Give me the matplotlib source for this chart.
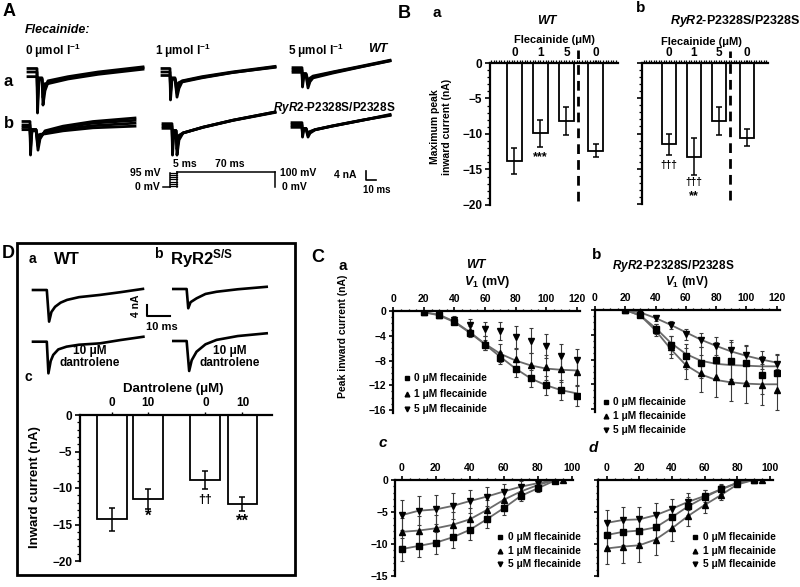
import numpy as np
import matplotlib
matplotlib.use('Agg')
import matplotlib.pyplot as plt
from matplotlib.lines import Line2D
from matplotlib.patches import Rectangle
from matplotlib.ticker import MultipleLocator

# ======================= DATA =======================
# Panel A: families of Na+ current traces (time ms, current nA)
A_t_a0 = [0, 9, 9.5, 11, 14, 15, 17, 20, 40, 70, 115]
A_I_a0 = [[1.5, 1.5, -17.6, -3, -3, -14.2, -8, -4.5, -2.5, -0.5, 1.8],
          [0, 0, -13, -2.5, -2.5, -11, -6.5, -3.8, -2, 0, 2.2],
          [-2, -2, -8, -3, -3, -7, -5, -5, -3, -1, 1.2]]
A_t_a1 = [0, 8, 8.5, 10, 13, 15, 17, 20, 40, 70, 113]
A_I_a1 = [[1.5, 1.5, -12, -3, -3, -10.8, -7, -4.3, -2.5, -0.3, 2.2],
          [0, 0, -9, -2.5, -2.5, -9, -5.5, -3.8, -2, 0, 2.4],
          [-1.5, -1.5, -6, -3, -3, -6, -4.5, -4, -2.3, -0.2, 2]]
A_t_a5 = [0, 9, 9.5, 11, 13, 15, 17, 20, 40, 70, 97]
A_I_a5 = [[1, 1, -7.3, -2, -2, -7.7, -5, -3.4, -1.3, 1.5, 3.9],
          [0, 0, -5.5, -1.8, -1.8, -6.3, -4.2, -3, -1, 1.6, 4],
          [-1, -1, -3.5, -1.5, -1.5, -4.5, -3.5, -2.6, -0.8, 1.8, 4.2]]
A_t_b0 = [0, 7, 7.5, 9, 13, 15, 17, 22, 40, 70, 112]
A_I_b0 = [[1.5, 1.5, -12.9, -2, -2, -10.8, -6, -2.5, -0.5, 1.5, 3],
          [0, 0, -10, -2, -2, -9, -5, -3, -1, 0.8, 2],
          [-1, -1, -7, -2, -2, -7, -4.5, -3.4, -1.8, -0.3, 0.8],
          [-2, -2, -5, -2.5, -2.5, -5, -4, -3.8, -2.5, -1.2, -0.5]]
A_t_b1 = [0, 9, 9.5, 11, 13, 14, 16, 20, 40, 70, 112]
A_I_b1 = [[1, 1, -12.5, -2, -2, -12.5, -6, -3, -0.5, 2.5, 6],
          [0, 0, -9, -2, -2, -10, -5, -3, -0.5, 2.5, 6],
          [-1, -1, -6, -2, -2, -7, -4, -3, -0.6, 2.4, 5.8]]
A_t_b5 = [0, 10, 10.5, 12, 14, 16, 18, 23, 40, 70, 98]
A_I_b5 = [[1, 1, -5.2, -1.5, -1.5, -5.2, -3.5, -2.1, -0.5, 2, 4.5],
          [0, 0, -4, -1.5, -1.5, -4.5, -3, -2, -0.5, 2, 4.3],
          [-1, -1, -3, -1.5, -1.5, -3.5, -2.8, -2, -0.4, 2.1, 4.1]]
# voltage protocol
PROT_V1 = [5, 20, 35, 50, 65, 80, 95]
PROT_TEST_V = 100
PROT_PRE_MS = 5
PROT_TEST_MS = 70

# Panel B: maximum peak inward current (nA)
B_labels = ['0', '1', '5', '0']
Ba_vals = [-13.8, -9.9, -8.2, -12.35]
Ba_err = [1.8, 1.9, 2.0, 0.95]
Bb_vals = [-11.55, -13.3, -8.2, -10.6]
Bb_err = [1.5, 2.6, 2.0, 1.2]

# Panel C: peak inward current vs V1
V_ab = [20, 30, 40, 50, 60, 70, 80, 90, 100, 110, 120]
Ca_0 = [-0.2, -0.65, -1.7, -3.6, -5.5, -7.6, -9.4, -10.9, -12.0, -12.8, -13.7]
Ca_1 = [-0.2, -0.6, -1.6, -3.3, -5.2, -6.8, -7.8, -8.7, -9.1, -9.4, -9.9]
Ca_5 = [-0.2, -0.45, -1.45, -2.3, -2.9, -3.2, -4.25, -4.8, -5.65, -7.3, -7.9]
Ca_0e = [0.1, 0.2, 0.4, 0.6, 0.8, 1.0, 1.2, 1.4, 1.5, 1.6, 1.7]
Ca_1e = [0.1, 0.2, 0.5, 0.8, 1.1, 1.4, 1.7, 1.9, 2.0, 2.1, 2.2]
Ca_5e = [0.1, 0.3, 0.6, 1.0, 1.2, 1.5, 1.8, 2.0, 2.0, 2.0, 1.8]
Ca_fit0 = [-0.2, -0.7, -1.8, -3.5, -5.4, -7.4, -9.3, -10.9, -12.0, -12.8, -13.3]
Ca_fit1 = [-0.2, -0.6, -1.7, -3.4, -5.3, -6.9, -8.0, -8.8, -9.3, -9.5, -9.6]

Cb_0 = [0, -0.8, -3.0, -5.65, -7.5, -8.5, -8.0, -8.2, -8.6, -10.5, -10.1]
Cb_1 = [0, -0.7, -3.2, -6.0, -8.7, -10.2, -10.9, -11.4, -11.8, -12.1, -12.9]
Cb_5 = [0, -0.3, -1.35, -2.4, -3.9, -4.85, -5.8, -6.4, -7.3, -8.1, -8.7]
Cb_0e = [0.1, 0.3, 0.8, 1.5, 2.0, 2.5, 2.8, 3.0, 3.0, 3.0, 3.0]
Cb_1e = [0.1, 0.3, 1.0, 1.8, 2.5, 3.0, 3.2, 3.3, 3.3, 3.3, 3.3]
Cb_5e = [0.1, 0.2, 0.4, 0.6, 0.9, 1.2, 1.4, 1.5, 1.5, 1.5, 1.4]
Cb_fit0 = [0, -0.9, -2.9, -5.3, -7.1, -8.2, -8.7, -8.9, -9.0, -9.1, -9.1]
Cb_fit1 = [0, -0.9, -3.3, -6.3, -8.9, -10.4, -11.3, -11.7, -11.9, -12.0, -12.0]
Cb_fit5 = [0, -0.4, -1.3, -2.4, -3.6, -4.8, -5.8, -6.7, -7.4, -8.0, -8.5]

V_cd = [0, 10, 20, 30, 40, 50, 60, 70, 80, 90]
V_cd1 = [0, 10, 20, 30, 40, 50, 60, 70, 80, 90, 95]
Cc_0 = [-10.8, -10.3, -9.8, -8.95, -7.8, -6.15, -4.4, -2.5, -1.3, -0.1]
Cc_1 = [-8.1, -7.9, -7.55, -7.0, -6.15, -4.7, -3.1, -1.8, -0.8, 0, 0]
Cc_5 = [-5.5, -4.8, -4.6, -4.05, -3.3, -2.6, -1.8, -1.05, -0.5, 0]
Cc_0e = [1.8, 1.8, 1.7, 1.6, 1.5, 1.3, 1.1, 0.8, 0.5, 0.2]
Cc_1e = [2.2, 2.2, 2.1, 2.0, 1.8, 1.5, 1.2, 0.9, 0.5, 0.2, 0.1]
Cc_5e = [2.3, 2.3, 2.2, 2.0, 1.8, 1.5, 1.2, 0.9, 0.5, 0.2]
Cd_0 = [-8.6, -8.1, -7.9, -7.4, -5.8, -4.1, -2.7, -1.45, -0.5, 0]
Cd_1 = [-10.7, -10.4, -10.2, -9.3, -7.55, -5.6, -3.9, -2.35, -0.7, 0, 0]
Cd_5 = [-6.7, -6.25, -6.15, -5.5, -4.5, -3.4, -2.5, -1.45, -0.4, 0]
Cd_0e = [2.0, 2.0, 2.0, 1.9, 1.7, 1.4, 1.1, 0.8, 0.4, 0.2]
Cd_1e = [2.5, 2.6, 2.6, 2.4, 2.0, 1.6, 1.2, 0.8, 0.4, 0.2, 0.1]
Cd_5e = [2.0, 2.0, 2.0, 1.9, 1.6, 1.3, 1.0, 0.7, 0.4, 0.2]
C_legend = ['0 μM flecainide', '1 μM flecainide', '5 μM flecainide']

# Panel D: traces and dantrolene bars
D_t_wt_top = [0, 6, 7, 8, 9.6, 12, 14.8, 20, 29, 38, 47.8]
D_I_wt_top = [0, 0, -11.5, -8.0, -6.1, -4.6, -3.6, -2.6, -1.8, -0.8, 0.4]
D_t_wt_bot = [0, 6, 6.7, 7.7, 8.8, 11, 14.6, 20, 29.1, 38, 48]
D_I_wt_bot = [0, 0, -11.5, -7.0, -4.8, -2.8, -1.8, -1.1, -0.6, 0.6, 1.8]
D_t_ry_top = [0, 5.8, 6.5, 7.5, 10.1, 14, 18.8, 28, 40.6]
D_I_ry_top = [0, 0, -7.0, -4.8, -3.4, -1.8, -1.0, -0.1, 0.8]
D_t_ry_bot = [0, 5.8, 6.9, 8, 10.1, 14, 18.8, 28, 40.6]
D_I_ry_bot = [0, 0, -10.9, -7, -3.9, -1.2, 0.4, 1.8, 2.8]
D_labels = ['0', '10', '0', '10']
Dc_vals = [-14.3, -11.5, -8.9, -12.2]
Dc_err = [1.6, 1.4, 1.2, 1.0]

# ======================= STYLE / LAYOUT =======================
plt.rcParams.update({
    'font.family': ['Liberation Sans', 'DejaVu Sans'],
    'font.weight': 'bold',
    'mathtext.fontset': 'custom',
    'mathtext.rm': 'Liberation Sans:bold',
    'mathtext.bf': 'Liberation Sans:bold',
    'mathtext.it': 'Liberation Sans:italic:bold',
    'axes.linewidth': 1.6,
    'axes.unicode_minus': True,
})

W, H = 800, 587
fig = plt.figure(figsize=(8, 5.87), dpi=100)


def ax_px(l, t, r, b):
    return fig.add_axes([l / W, 1 - b / H, (r - l) / W, (b - t) / H])


def txt(x, y, s, size=8, ha='center', va='center', **kw):
    kw.setdefault('fontweight', 'bold')
    fig.text(x / W, 1 - y / H, s, fontsize=size, ha=ha, va=va, **kw)


def fline(xs, ys, lw=1.3, **kw):
    fig.add_artist(Line2D([x / W for x in xs], [1 - y / H for y in ys],
                          transform=fig.transFigure, color='black', lw=lw, **kw))


# ---------------- Panel A ----------------
txt(3, 12, 'A', 13, ha='left')
txt(25, 30, 'Flecainide:', 9, ha='left', fontstyle='italic')
txt(25, 51, r'0 μmol l$^{-1}$', 8.5, ha='left')
txt(155, 51, r'1 μmol l$^{-1}$', 8.5, ha='left')
txt(288, 51, r'5 μmol l$^{-1}$', 8.5, ha='left')
txt(387, 49, 'WT', 9, ha='right', fontstyle='italic')
txt(4, 81, 'a', 12, ha='left')
txt(4, 123, 'b', 12, ha='left')
txt(395, 108, r'$\mathit{RyR2}$-P2328S/P2328S', 8.5, ha='right')

PXMS, PXNA = 1.0, 2.33
trace_sets = [((28, 72), A_t_a0, A_I_a0), ((162, 72), A_t_a1, A_I_a1),
              ((293, 70), A_t_a5, A_I_a5), ((23, 125), A_t_b0, A_I_b0),
              ((163, 126), A_t_b1, A_I_b1), ((292, 125), A_t_b5, A_I_b5)]
for (x0, y0), tt, II in trace_sets:
    ax = ax_px(x0 - 2 * PXMS, y0 - 8 * PXNA, x0 + 122 * PXMS, y0 + 20 * PXNA)
    ax.set_xlim(-2, 122)
    ax.set_ylim(-20, 8)
    ax.axis('off')
    for I in II:
        ax.plot(tt, I, color='black', lw=2.0, solid_joinstyle='round')

# protocol
px_ms = 1.4
ap = ax_px(170 - 6 * px_ms, 172 - 10 * 0.15, 170 + 78 * px_ms, 187 + 10 * 0.15)
ap.set_xlim(-6, 78)
ap.set_ylim(-10, 110)
ap.axis('off')
ap.plot([-5, 0], [0, 0], color='black', lw=1.1)
for v in PROT_V1:
    ap.plot([0, PROT_PRE_MS], [v, v], color='black', lw=0.9)
ap.plot([0, 0], [0, max(PROT_V1)], color='black', lw=1.1)
ap.plot([PROT_PRE_MS, PROT_PRE_MS], [0, PROT_TEST_V], color='black', lw=1.1)
ap.plot([PROT_PRE_MS, PROT_PRE_MS + PROT_TEST_MS], [PROT_TEST_V, PROT_TEST_V], color='black', lw=1.1)
ap.plot([PROT_PRE_MS + PROT_TEST_MS] * 2, [PROT_TEST_V, 0], color='black', lw=1.1)
txt(160, 173, '95 mV', 7.5, ha='right')
txt(160, 187, '0 mV', 7.5, ha='right')
txt(185, 164, '5 ms', 7.5)
txt(230, 164, '70 ms', 7.5)
txt(280, 173, '100 mV', 7.5, ha='left')
txt(282, 187, '0 mV', 7.5, ha='left')
txt(345, 175, '4 nA', 7.5)
fline([366, 366, 376], [171, 180.3, 180.3], lw=1.2)
txt(377, 190, '10 ms', 7)

# ---------------- Panel B ----------------
txt(398, 13, 'B', 13, ha='left')
txt(437, 13, 'a', 11)
txt(641, 8, 'b', 11)
txt(547, 21, 'WT', 9, fontstyle='italic')
txt(735, 21, r'$\mathit{RyR2}$-P2328S/P2328S', 9)
txt(554, 40, 'Flecainide (μM)', 8)
txt(701, 42, 'Flecainide (μM)', 8)
txt(441, 127, 'Maximum peak\ninward current (nA)', 7.5, rotation=90, linespacing=1.15)

bpos = np.array([0, 1, 2, 3.12])
bdash = 2.45


def bar_axes(ax, vals, errs, labels, pos, width, ylab=True, fs=8):
    ax.bar(pos, vals, width=width, color='white', edgecolor='black', linewidth=1.3,
           yerr=errs, error_kw=dict(ecolor='black', elinewidth=1.1, capsize=2.5, capthick=1.1),
           zorder=2)
    ax.set_ylim(-20, 0)
    for s in ['right', 'bottom']:
        ax.spines[s].set_visible(False)
    ax.xaxis.tick_top()
    ax.set_xticks(pos)
    ax.set_xticklabels(labels, fontsize=fs)
    ax.yaxis.set_major_locator(MultipleLocator(5))
    ax.yaxis.set_minor_locator(MultipleLocator(1))
    ax.tick_params(axis='y', which='major', length=3.5, width=1.2, labelsize=fs, pad=2)
    ax.tick_params(axis='y', which='minor', length=2, width=0.9)
    if not ylab:
        ax.set_yticklabels([])
    ax.patch.set_alpha(0)


ba = ax_px(490, 63, 618, 205)
ba.set_xlim(-0.94, 3.98)
bar_axes(ba, Ba_vals, Ba_err, B_labels, bpos, 0.58, fs=8.5)
ba.xaxis.set_minor_locator(MultipleLocator(0.1))
ba.tick_params(axis='x', which='major', length=2, width=0.9, pad=1)
ba.tick_params(axis='x', which='minor', length=2, width=0.9)
ba.plot([bdash, bdash], [-19.5, 1.9], color='black', lw=2, ls=(0, (3.5, 2.2)), clip_on=False)
ba.text(1, -13.3, '***', ha='center', va='center', fontsize=9, fontweight='bold')

bb = ax_px(641.7, 63, 768, 204)
bb.set_xlim(-1.09, 3.96)
bar_axes(bb, Bb_vals, Bb_err, B_labels, bpos, 0.56, ylab=False, fs=8.5)
bb.xaxis.set_minor_locator(MultipleLocator(0.1))
bb.tick_params(axis='x', which='major', length=2, width=0.9, pad=1)
bb.tick_params(axis='x', which='minor', length=2, width=0.9)
bb.plot([bdash, bdash], [-19.5, 1.7], color='black', lw=2, ls=(0, (3.5, 2.2)), clip_on=False)
bb.text(0, -14.4, '†††', ha='center', va='center', fontsize=7.5, fontweight='bold')
bb.text(1, -16.9, '†††', ha='center', va='center', fontsize=7.5, fontweight='bold')
bb.text(1, -18.9, '**', ha='center', va='center', fontsize=9, fontweight='bold')

# ---------------- Panel C ----------------
txt(318, 257, 'C', 13)
txt(343, 266, 'a', 11)
txt(597, 255, 'b', 11)
txt(476, 265, 'WT', 9, fontstyle='italic')
txt(487, 282, r'$V_1$ (mV)', 9)
txt(673, 266, r'$\mathit{RyR2}$-P2328S/P2328S', 8.5)
txt(687, 282.5, r'$V_1$ (mV)', 8.5)
txt(383, 443, 'c', 11, fontstyle='italic')
txt(593, 448, 'd', 11, fontstyle='italic')
txt(343, 336, 'Peak inward current (nA)', 7.5, rotation=90)


def c_axes(box, xlim, ylim, xmaj, ymaj, ylabels=True):
    ax = ax_px(*box)
    ax.set_xlim(*xlim)
    ax.set_ylim(*ylim)
    for s in ['right', 'bottom']:
        ax.spines[s].set_visible(False)
    ax.xaxis.tick_top()
    ax.xaxis.set_major_locator(MultipleLocator(xmaj))
    ax.xaxis.set_minor_locator(MultipleLocator(5))
    ax.yaxis.set_major_locator(MultipleLocator(ymaj))
    ax.yaxis.set_minor_locator(MultipleLocator(1))
    ax.tick_params(which='major', length=3, width=1.2, labelsize=7.5, pad=2)
    ax.tick_params(which='minor', length=1.8, width=0.9)
    if not ylabels:
        ax.set_yticklabels([])
    ax.patch.set_alpha(0)
    return ax


MK = ['s', '^', 'v']
MS = [3.8, 4.0, 4.0]


def series(ax, V, Y, E, k, fit=None, connect=False):
    if fit is not None:
        ax.plot(V, fit, color='#6a6a6a', lw=1.3, zorder=2)
    elif connect:
        ax.plot(V, Y, color='#6a6a6a', lw=1.3, zorder=2)
    ax.errorbar(V, Y, yerr=E, fmt='none', ecolor='#3a3a3a', elinewidth=0.8,
                capsize=1.6, capthick=0.8, zorder=3)
    ax.plot(V, Y, ls='none', marker=MK[k], ms=MS[k], color='black', zorder=4)


def c_legend(xm, xt, ys):
    for k, (y, lab) in enumerate(zip(ys, C_legend)):
        fig.add_artist(Line2D([xm / W], [1 - y / H], marker=MK[k], ms=MS[k] * 0.85,
                              color='black', ls='none', transform=fig.transFigure))
        txt(xt, y, lab, 7.3, ha='left')


ca = c_axes((393.3, 311, 393.3 + 122 * 1.528, 311 + 16.4 * 6.19), (0, 122), (-16.4, 0), 20, 4)
series(ca, V_ab, Ca_0, Ca_0e, 0, fit=Ca_fit0)
series(ca, V_ab, Ca_1, Ca_1e, 1, fit=Ca_fit1)
series(ca, V_ab, Ca_5, Ca_5e, 2)
c_legend(407, 414, [378, 394, 409])

cb = c_axes((595, 310, 595 + 122 * 1.514, 310 + 16.4 * 6.19), (0, 122), (-16.4, 0), 20, 4, ylabels=False)
series(cb, V_ab, Cb_0, Cb_0e, 0, fit=Cb_fit0)
series(cb, V_ab, Cb_1, Cb_1e, 1, fit=Cb_fit1)
series(cb, V_ab, Cb_5, Cb_5e, 2, fit=Cb_fit5)
c_legend(606, 613, [402, 416, 430])

cc = c_axes((395, 480, 401.7 + 100.8 * 1.7, 576), (-3.9, 100.8), (-15, 0), 20, 5)
series(cc, V_cd, Cc_0, Cc_0e, 0, connect=True)
series(cc, V_cd1, Cc_1, Cc_1e, 1, connect=True)
series(cc, V_cd, Cc_5, Cc_5e, 2, connect=True)
c_legend(500, 508, [537, 551, 564])

cd = c_axes((598.3, 480, 606.7 + 102 * 1.633, 576), (-5.1, 102), (-15, 0), 20, 5, ylabels=False)
series(cd, V_cd, Cd_0, Cd_0e, 0, connect=True)
series(cd, V_cd1, Cd_1, Cd_1e, 1, connect=True)
series(cd, V_cd, Cd_5, Cd_5e, 2, connect=True)
c_legend(695, 703, [537, 551, 564])

# ---------------- Panel D ----------------
fig.add_artist(Rectangle((17.3 / W, 1 - 575 / H), (295 - 17.3) / W, (575 - 243.3) / H,
                         fill=False, lw=2, edgecolor='black', transform=fig.transFigure))
txt(8, 254, 'D', 13)
txt(32, 259, 'a', 10)
txt(67, 259, 'WT', 12)
txt(158, 254, 'b', 10)
txt(170, 259, r'RyR2$^{\mathrm{S/S}}$', 12, ha='left')

DPXMS, DPXNA = 2.3, 2.75
d_traces = [((33, 290), D_t_wt_top, D_I_wt_top), ((33, 341.7), D_t_wt_bot, D_I_wt_bot),
            ((173.3, 289), D_t_ry_top, D_I_ry_top), ((173.3, 341), D_t_ry_bot, D_I_ry_bot)]
for (x0, y0), tt, II in d_traces:
    ax = ax_px(x0 - 2 * DPXMS, y0 - 4 * DPXNA, x0 + 49 * DPXMS, y0 + 13 * DPXNA)
    ax.set_xlim(-2, 49)
    ax.set_ylim(-13, 4)
    ax.axis('off')
    ax.plot(tt, II, color='black', lw=1.9, solid_joinstyle='round')
fline([147, 147, 170], [305, 316, 316], lw=1.5)
txt(136, 306, '4 nA', 7.5, rotation=90)
txt(162, 327, '10 ms', 8)
txt(90, 357, '10 μM\ndantrolene', 8.5, linespacing=0.9)
txt(230, 357, '10 μM\ndantrolene', 8.5, linespacing=0.9)
txt(28, 377, 'c', 10)
txt(173, 389, 'Dantrolene (μM)', 9.5)
txt(35, 487, 'Inward current (nA)', 9.5, rotation=90)

dpos = np.array([0, 1, 2.6, 3.63])
dc = ax_px(80, 415, 272, 561)
dc.set_xlim(-0.88, 4.45)
bar_axes(dc, Dc_vals, Dc_err, D_labels, dpos, 0.83, fs=8.5)
dc.tick_params(axis='x', which='major', length=2.5, width=1, pad=1.5)
dc.text(1, -13.9, '*', ha='center', va='center', fontsize=12, fontweight='bold')
dc.text(2.6, -11.6, '††', ha='center', va='center', fontsize=9, fontweight='bold')
dc.text(3.63, -14.6, '**', ha='center', va='center', fontsize=12, fontweight='bold')

fig.savefig('out.png', dpi=100)
